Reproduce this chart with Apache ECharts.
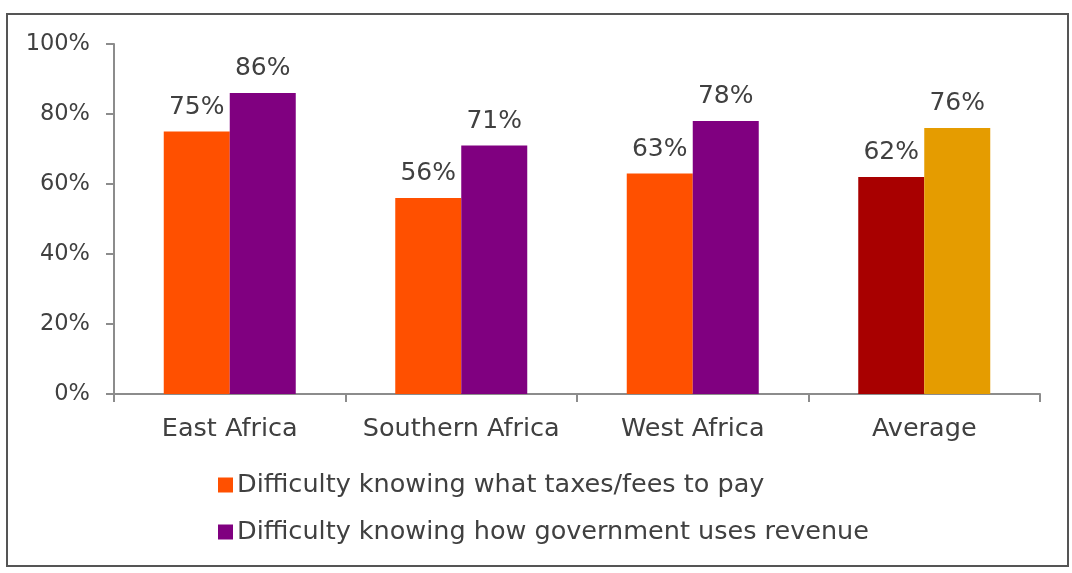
<!DOCTYPE html>
<html>
<head>
<meta charset="utf-8">
<script src="https://cdn.jsdelivr.net/npm/echarts@6/dist/echarts.min.js"></script>
<style>
  html, body { margin: 0; padding: 0; background: #ffffff; }
  #chart { width: 1072px; height: 573px; }
</style>
</head>
<body>
<div id="chart"></div>
<script>
// Regions surveyed, plus the overall average
const categories = ['East Africa', 'Southern Africa', 'West Africa', 'Average'];
const seriesNames = [
  'Difficulty knowing what taxes/fees to pay',
  'Difficulty knowing how government uses revenue'
];
// Share of respondents (%)
const taxesToPay = [75, 56, 63, 62];
const revenueUse = [86, 71, 78, 76];
const yTicks = [0, 20, 40, 60, 80, 100];

const seriesColors = ['#FF5000', '#800080'];
const averageColors = ['#A80000', '#E59C00'];
const textColor = '#404040';
const fontFamily = '"DejaVu Sans", sans-serif';

function buildData(values, idx) {
  return values.map((v, i) => {
    if (categories[i] === 'Average') {
      return { value: v, itemStyle: { color: averageColors[idx] } };
    }
    return v;
  });
}

const labelStyle = {
  show: true, position: 'top', distance: 12, formatter: '{c}%',
  fontSize: 25, color: textColor, fontFamily: fontFamily
};

const chart = echarts.init(document.getElementById('chart'));
chart.setOption({
  animation: false,
  backgroundColor: '#ffffff',
  textStyle: { fontFamily: fontFamily, color: textColor },
  graphic: [{
    type: 'rect',
    shape: { x: 7, y: 14, width: 1061, height: 552 },
    style: { fill: 'none', stroke: '#555555', lineWidth: 2 },
    silent: true
  }],
  grid: { left: 114, top: 44, right: 32, bottom: 179 },
  legend: {
    orient: 'vertical',
    left: 213,
    top: 467,
    itemWidth: 15,
    itemHeight: 15,
    itemGap: 21,
    icon: 'rect',
    textStyle: { fontSize: 25.5, color: textColor, fontFamily: fontFamily, padding: [0, 0, 0, -1] },
    data: seriesNames
  },
  xAxis: {
    type: 'category',
    data: categories,
    axisLine: { lineStyle: { color: '#8c8c8c', width: 2 } },
    axisTick: { show: true, length: 8, lineStyle: { color: '#8c8c8c', width: 2 } },
    axisLabel: { interval: 0, fontSize: 25.5, color: textColor, margin: 22, fontFamily: fontFamily }
  },
  yAxis: {
    type: 'value',
    min: yTicks[0],
    max: yTicks[yTicks.length - 1],
    interval: yTicks[1] - yTicks[0],
    splitLine: { show: false },
    axisLine: { show: true, lineStyle: { color: '#8c8c8c', width: 2 } },
    axisTick: { show: true, length: 8, lineStyle: { color: '#8c8c8c', width: 2 } },
    axisLabel: { fontSize: 22.5, color: textColor, margin: 24, formatter: '{value}%', fontFamily: fontFamily }
  },
  series: [
    {
      name: seriesNames[0],
      type: 'bar',
      data: buildData(taxesToPay, 0),
      itemStyle: { color: seriesColors[0] },
      barWidth: 66,
      barGap: '0%',
      label: labelStyle
    },
    {
      name: seriesNames[1],
      type: 'bar',
      data: buildData(revenueUse, 1),
      itemStyle: { color: seriesColors[1] },
      barWidth: 66,
      barGap: '0%',
      label: labelStyle
    }
  ]
});
</script>
</body>
</html>
